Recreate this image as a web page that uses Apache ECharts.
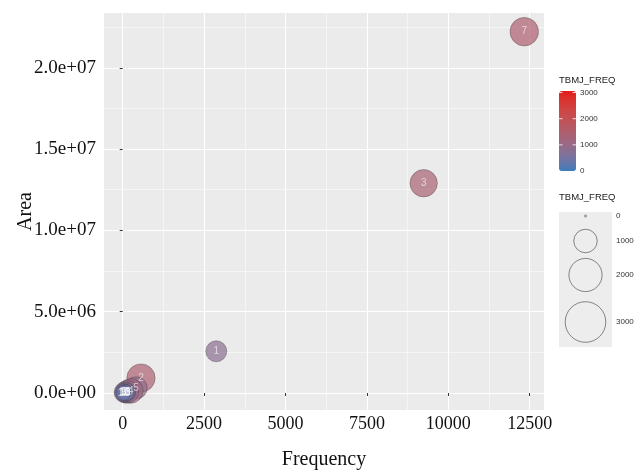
<!DOCTYPE html>
<html>
<head>
<meta charset="utf-8">
<script src="https://cdn.jsdelivr.net/npm/echarts@6/dist/echarts.min.js"></script>
<style>
  html, body { margin: 0; padding: 0; background: #ffffff; }
  #chart { width: 635px; height: 476px; }
</style>
</head>
<body>
<div id="chart"></div>
<script>
// Bubble data: one entry per ID
const ids       = ['7', '3', '1', '2', '5', '4', '6', '13', '8', '9', '10', '11', '12'];
const frequency = [12334, 9244, 2875, 562, 408, 250, 140, 60, 95, 35, 70, 110, 20];
const area      = [22.22e6, 12.9e6, 2.565e6, 0.92e6, 0.31e6, 0.13e6, 0.07e6, 0.04e6, 0.03e6, 0.02e6, 0.01e6, 0.02e6, 0.005e6];
const tbmjFreq  = [1480, 1360, 800, 1450, 900, 1100, 950, 800, 700, 600, 500, 450, 400];

// Axis ticks and labels
const xMajorTicks = [0, 2500, 5000, 7500, 10000, 12500];
const xMinorTicks = [1250, 3750, 6250, 8750, 11250];
const yMajorTicks = [0, 5e6, 1e7, 1.5e7, 2e7];
const yMinorTicks = [2.5e6, 7.5e6, 1.25e7, 1.75e7, 2.25e7];
const yTickLabels = ['0.0e+00', '5.0e+06', '1.0e+07', '1.5e+07', '2.0e+07'];

// Legend breaks for TBMJ_FREQ
const colorBreaks = [0, 1000, 2000, 3000];
const sizeBreaks  = [0, 1000, 2000, 3000];

const X_MIN = -574, X_MAX = 12940;
const Y_MIN = -1.046e6, Y_MAX = 23.37e6;
const V_MAX = 3060;

// point radius grows with area (sqrt of value)
function radiusOf(v) { return Math.sqrt(1 + 0.137 * v); }

// ---- colour gradient interpolated in CIE Lab (blue -> red) ----
function hexToRgb(h) { return [1, 3, 5].map(i => parseInt(h.substr(i, 2), 16)); }
function toLin(c) { c /= 255; return c <= 0.04045 ? c / 12.92 : Math.pow((c + 0.055) / 1.055, 2.4); }
function fromLin(c) { c = c <= 0.0031308 ? 12.92 * c : 1.055 * Math.pow(c, 1 / 2.4) - 0.055; return Math.max(0, Math.min(255, Math.round(c * 255))); }
function rgbToLab(rgb) {
  const [r, g, b] = rgb.map(toLin);
  const X = (0.4124 * r + 0.3576 * g + 0.1805 * b) / 0.95047;
  const Y = 0.2126 * r + 0.7152 * g + 0.0722 * b;
  const Z = (0.0193 * r + 0.1192 * g + 0.9505 * b) / 1.08883;
  const f = t => t > 0.008856 ? Math.cbrt(t) : 7.787 * t + 16 / 116;
  const fx = f(X), fy = f(Y), fz = f(Z);
  return [116 * fy - 16, 500 * (fx - fy), 200 * (fy - fz)];
}
function labToRgb([L, a, b]) {
  const fy = (L + 16) / 116, fx = fy + a / 500, fz = fy - b / 200;
  const inv = t => t * t * t > 0.008856 ? t * t * t : (t - 16 / 116) / 7.787;
  const X = inv(fx) * 0.95047, Y = inv(fy), Z = inv(fz) * 1.08883;
  const r = 3.2406 * X - 1.5372 * Y - 0.4986 * Z;
  const g = -0.9689 * X + 1.8758 * Y + 0.0415 * Z;
  const bb = 0.0557 * X - 0.2040 * Y + 1.0570 * Z;
  return 'rgb(' + [r, g, bb].map(fromLin).join(',') + ')';
}
const lowLab = rgbToLab(hexToRgb('#3A7DBC'));
const highLab = rgbToLab(hexToRgb('#E41A1C'));
const gradientStops = [];
for (let i = 0; i <= 12; i++) {
  const t = i / 12;
  gradientStops.push(labToRgb([0, 1, 2].map(k => lowLab[k] + (highLab[k] - lowLab[k]) * t)));
}

const serif = '"Liberation Serif", "Times New Roman", serif';
const sans = '"Liberation Sans", Arial, sans-serif';

const seriesData = ids.map((id, i) => [frequency[i], area[i], tbmjFreq[i], id]);

// colourbar geometry
const BAR_LEFT = 559, BAR_TOP = 91, BAR_W = 17, BAR_H = 80;
const barY = v => BAR_TOP + BAR_H - v / V_MAX * BAR_H;

// size legend geometry
const KEY_CX = 585.5;
const keyCenters = [216, 241, 275, 322];

const graphics = [
  { type: 'text', left: 559, top: 75, style: { text: 'TBMJ_FREQ', font: '9.5px ' + sans, fill: '#1a1a1a' } },
  { type: 'text', left: 559, top: 192, style: { text: 'TBMJ_FREQ', font: '9.5px ' + sans, fill: '#1a1a1a' } },
  { type: 'rect', shape: { x: 559, y: 212, width: 53, height: 135 }, style: { fill: '#EDEDED' }, z: 1 }
];
colorBreaks.forEach(v => {
  const y = barY(v);
  graphics.push({ type: 'text', x: 580, y: y, style: { text: String(v), font: '8px ' + sans, fill: '#333', textVerticalAlign: 'middle' } });
  if (v > 0 && v < V_MAX) {
    graphics.push({ type: 'line', shape: { x1: BAR_LEFT, y1: y, x2: BAR_LEFT + 3.5, y2: y }, style: { stroke: '#fff', lineWidth: 0.8 }, z: 10 });
    graphics.push({ type: 'line', shape: { x1: BAR_LEFT + BAR_W - 3.5, y1: y, x2: BAR_LEFT + BAR_W, y2: y }, style: { stroke: '#fff', lineWidth: 0.8 }, z: 10 });
  }
});
sizeBreaks.forEach((v, i) => {
  graphics.push({ type: 'circle', shape: { cx: KEY_CX, cy: keyCenters[i], r: radiusOf(v) }, style: { fill: 'rgba(0,0,0,0)', stroke: '#555', lineWidth: 0.7 }, z: 5 });
  graphics.push({ type: 'text', x: 616, y: keyCenters[i], style: { text: String(v), font: '8px ' + sans, fill: '#333', textVerticalAlign: 'middle' }, z: 5 });
});

const option = {
  animation: false,
  backgroundColor: '#ffffff',
  grid: {
    left: 104, top: 13, width: 440, height: 397, show: true, backgroundColor: '#EBEBEB', borderWidth: 0,
    outerBoundsMode: 'none', containLabel: false
  },
  xAxis: [
    {
      type: 'value', min: X_MIN, max: X_MAX,
      axisLine: { show: false },
      axisTick: { show: true, length: 3, customValues: xMajorTicks, lineStyle: { color: '#333', width: 1 } },
      axisLabel: { customValues: xMajorTicks, fontFamily: serif, fontSize: 18, color: '#111', margin: 5, formatter: v => String(v) },
      splitLine: { show: true, lineStyle: { color: '#ffffff', width: 1.1 } },
      name: 'Frequency', nameLocation: 'middle', nameGap: 40, nameMoveOverlap: false,
      nameTextStyle: { fontFamily: serif, fontSize: 20, color: '#111' }
    },
    {
      type: 'value', min: X_MIN, max: X_MAX, position: 'top',
      axisLine: { show: false },
      axisTick: { show: false, customValues: xMinorTicks },
      axisLabel: { show: false, customValues: xMinorTicks },
      splitLine: { show: true, lineStyle: { color: '#ffffff', width: 0.5 } }
    }
  ],
  yAxis: [
    {
      type: 'value', min: Y_MIN, max: Y_MAX,
      axisLine: { show: false },
      axisTick: { show: true, length: 3, customValues: yMajorTicks, lineStyle: { color: '#333', width: 1 } },
      axisLabel: {
        customValues: yMajorTicks, fontFamily: serif, fontSize: 19, color: '#111', margin: 8,
        formatter: v => yTickLabels[yMajorTicks.indexOf(v)]
      },
      splitLine: { show: true, lineStyle: { color: '#ffffff', width: 1.1 } },
      name: 'Area', nameLocation: 'middle', nameGap: 68, nameRotate: 90, nameMoveOverlap: false,
      nameTextStyle: { fontFamily: serif, fontSize: 20, color: '#111' }
    },
    {
      type: 'value', min: Y_MIN, max: Y_MAX, position: 'right',
      axisLine: { show: false },
      axisTick: { show: false, customValues: yMinorTicks },
      axisLabel: { show: false, customValues: yMinorTicks },
      splitLine: { show: true, lineStyle: { color: '#ffffff', width: 0.5 } }
    }
  ],
  visualMap: {
    type: 'continuous', min: 0, max: V_MAX, dimension: 2, seriesIndex: 0,
    calculable: false, hoverLink: false, realtime: false,
    inRange: { color: gradientStops },
    itemWidth: BAR_W, itemHeight: BAR_H, left: BAR_LEFT, top: BAR_TOP, padding: 0,
    text: null, showLabel: false
  },
  series: [{
    type: 'scatter',
    xAxisIndex: 0, yAxisIndex: 0,
    data: seriesData,
    symbolSize: val => 2 * radiusOf(val[2]),
    itemStyle: { opacity: 0.7, borderColor: 'rgba(50,50,50,0.8)', borderWidth: 0.6 },
    label: {
      show: true, position: 'inside', formatter: p => p.data[3],
      color: 'rgba(255,255,255,0.9)', fontFamily: sans, fontSize: 10
    },
    emphasis: { disabled: true }
  }],
  graphic: graphics
};

const chart = echarts.init(document.getElementById('chart'), null, { renderer: 'canvas' });
chart.setOption(option);
</script>
</body>
</html>
